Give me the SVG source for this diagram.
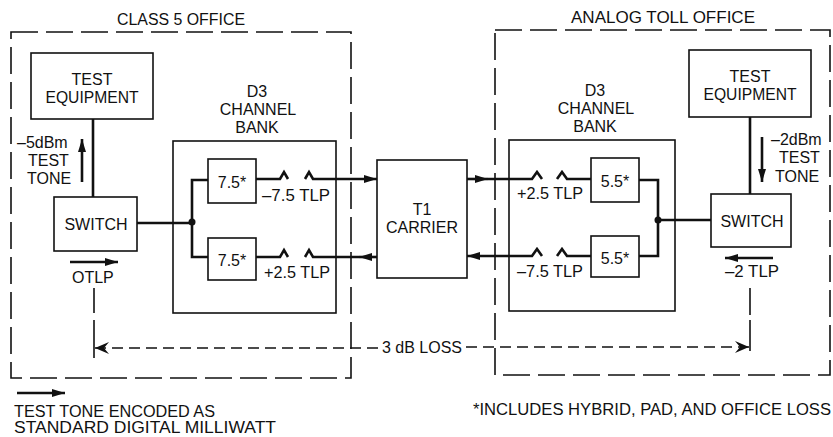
<svg xmlns="http://www.w3.org/2000/svg" width="833" height="437" viewBox="0 0 833 437">
<style>
text{font-family:"Liberation Sans",Arial,sans-serif;font-size:16px;fill:#111}
.m{text-anchor:middle}
.box{fill:none;stroke:#111;stroke-width:1.6}
.dash{fill:none;stroke:#111;stroke-width:1.6;stroke-dasharray:27 8}
.sig{fill:none;stroke:#111;stroke-width:2.6}
.thin{fill:none;stroke:#111;stroke-width:1.6}
.ld{fill:none;stroke:#111;stroke-width:1.6;stroke-dasharray:11 6}
</style>
<defs>
<marker id="ah" viewBox="0 0 13 8" refX="13" refY="4" markerWidth="13" markerHeight="8" markerUnits="userSpaceOnUse" orient="auto">
<path d="M0,0 L13,4 L0,8 z" fill="#111"/>
</marker>
<marker id="barb" viewBox="0 0 14 12" refX="14" refY="6" markerWidth="14" markerHeight="12" markerUnits="userSpaceOnUse" orient="auto">
<path d="M0,0 L14,6 L0,12 L5,6 z" fill="#111"/>
</marker>
</defs>

<g id="class5-office">
<rect class="dash" x="11" y="32" width="340" height="346"/>
<text class="m" x="181" y="25" textLength="128" lengthAdjust="spacingAndGlyphs">CLASS 5 OFFICE</text>
</g>
<g id="toll-office">
<rect class="dash" x="495" y="30" width="335" height="345"/>
<text class="m" x="663" y="23" textLength="184" lengthAdjust="spacingAndGlyphs">ANALOG TOLL OFFICE</text>
</g>

<g id="test-equip-left">
<rect class="box" x="31" y="53" width="122" height="66"/>
<text class="m" x="92" y="85">TEST</text>
<text class="m" x="92" y="103" textLength="93" lengthAdjust="spacingAndGlyphs">EQUIPMENT</text>
</g>
<g id="switch-left">
<rect class="box" x="54" y="197" width="83" height="54"/>
<text class="m" x="96" y="230">SWITCH</text>
</g>
<g id="bank-left">
<rect class="box" x="173" y="141" width="163" height="172"/>
<text class="m" x="257" y="97">D3</text>
<text class="m" x="258" y="115">CHANNEL</text>
<text class="m" x="257" y="133">BANK</text>
</g>
<g id="pad-left-top">
<rect class="box" x="208" y="159" width="48" height="44"/>
<text class="m" x="232" y="188">7.5*</text>
</g>
<g id="pad-left-bot">
<rect class="box" x="208" y="238" width="48" height="42"/>
<text class="m" x="232" y="266">7.5*</text>
</g>
<g id="t1-carrier">
<rect class="box" x="377" y="160" width="90" height="118"/>
<text class="m" x="422" y="215">T1</text>
<text class="m" x="422" y="233">CARRIER</text>
</g>
<g id="bank-right">
<rect class="box" x="509" y="140" width="166" height="171"/>
<text class="m" x="595" y="96">D3</text>
<text class="m" x="596" y="114">CHANNEL</text>
<text class="m" x="595" y="132">BANK</text>
</g>
<g id="pad-right-top">
<rect class="box" x="591" y="158" width="48" height="44"/>
<text class="m" x="615" y="187">5.5*</text>
</g>
<g id="pad-right-bot">
<rect class="box" x="591" y="236" width="48" height="41"/>
<text class="m" x="615" y="264">5.5*</text>
</g>
<g id="test-equip-right">
<rect class="box" x="689" y="50" width="122" height="67"/>
<text class="m" x="750" y="82">TEST</text>
<text class="m" x="750" y="100" textLength="93" lengthAdjust="spacingAndGlyphs">EQUIPMENT</text>
</g>
<g id="switch-right">
<rect class="box" x="711" y="194" width="80" height="53"/>
<text class="m" x="752" y="227">SWITCH</text>
</g>

<g id="connectors">
<line class="sig" x1="93" y1="119" x2="93" y2="197"/>
<line class="sig" x1="137" y1="223" x2="192" y2="223"/>
<polyline class="sig" points="208,180 192,180 192,257 208,257"/>
<circle cx="192" cy="222" r="3.5" fill="#111"/>
<polyline class="sig" points="256,179 280,179 284,172 288,179"/>
<polyline class="sig" points="305,179 309,172 313,179 377,179" marker-end="url(#ah)"/>
<polyline class="sig" points="256,257 280,257 284,250 288,257"/>
<polyline class="sig" points="305,257 309,250 313,257 359,257"/>
<line class="sig" x1="377" y1="257" x2="359" y2="257" marker-end="url(#ah)"/>
<line class="sig" x1="467" y1="179" x2="488" y2="179" marker-end="url(#ah)"/>
<polyline class="sig" points="488,179 532,179 537,172 542,179"/>
<polyline class="sig" points="557,179 562,172 567,179 591,179"/>
<polyline class="sig" points="591,256 567,256 562,249 557,256"/>
<polyline class="sig" points="542,256 537,249 532,256 467,256" marker-end="url(#ah)"/>
<polyline class="sig" points="639,180 658,180 658,256 639,256"/>
<circle cx="658" cy="220" r="3.5" fill="#111"/>
<line class="sig" x1="658" y1="220" x2="711" y2="220"/>
<line class="sig" x1="750" y1="117" x2="750" y2="194"/>
<line class="thin" x1="94" y1="288" x2="94" y2="313"/>
<line class="thin" x1="94" y1="320" x2="94" y2="358"/>
<line class="thin" x1="750" y1="288" x2="750" y2="315"/>
<line class="thin" x1="750" y1="320" x2="750" y2="351"/>
<line class="ld" x1="378" y1="348" x2="95" y2="348" marker-end="url(#barb)"/>
<line class="ld" x1="466" y1="347" x2="749" y2="347" marker-end="url(#barb)"/>
</g>

<g id="labels">
<text x="17" y="148">–5dBm</text>
<text x="28" y="166">TEST</text>
<text x="27" y="184">TONE</text>
<line class="sig" x1="82" y1="182" x2="82" y2="139" marker-end="url(#ah)"/>
<text x="72" y="283">OTLP</text>
<line class="sig" x1="70" y1="262" x2="118" y2="262" marker-end="url(#ah)"/>
<text x="262" y="201" textLength="68" lengthAdjust="spacingAndGlyphs">–7.5 TLP</text>
<text x="264" y="278" textLength="66" lengthAdjust="spacingAndGlyphs">+2.5 TLP</text>
<text x="517" y="199" textLength="66" lengthAdjust="spacingAndGlyphs">+2.5 TLP</text>
<text x="517" y="277" textLength="66" lengthAdjust="spacingAndGlyphs">–7.5 TLP</text>
<text x="771" y="145">–2dBm</text>
<text x="779" y="163">TEST</text>
<text x="775" y="182">TONE</text>
<line class="sig" x1="762" y1="137" x2="762" y2="182" marker-end="url(#ah)"/>
<text x="725" y="277" textLength="54" lengthAdjust="spacingAndGlyphs">–2 TLP</text>
<line class="sig" x1="773" y1="258" x2="725" y2="258" marker-end="url(#ah)"/>
<text x="382" y="353" textLength="80" lengthAdjust="spacingAndGlyphs">3 dB LOSS</text>
</g>

<g id="legend">
<line class="sig" x1="17" y1="393" x2="65" y2="393" marker-end="url(#ah)"/>
<text x="14" y="417" textLength="201" lengthAdjust="spacingAndGlyphs">TEST TONE ENCODED AS</text>
<text x="14" y="433" textLength="262" lengthAdjust="spacingAndGlyphs">STANDARD DIGITAL MILLIWATT</text>
<text x="473" y="415" textLength="358" lengthAdjust="spacingAndGlyphs">*INCLUDES HYBRID, PAD, AND OFFICE LOSS</text>
</g>
</svg>
